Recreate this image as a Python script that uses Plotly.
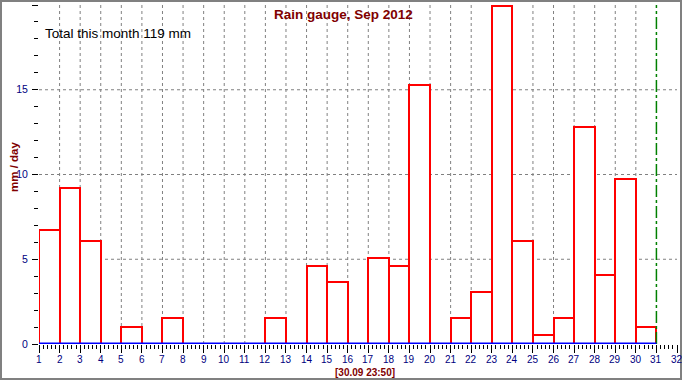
import plotly.graph_objects as go

days = list(range(1, 31))
rain_mm = [6.7, 9.2, 6.1, 0, 1.0, 0, 1.55, 0, 0, 0,
           0, 1.55, 0, 4.6, 3.65, 0, 5.1, 4.6, 15.3, 0,
           1.55, 3.05, 19.95, 6.1, 0.55, 1.55, 12.8, 4.05, 9.75, 1.0]
x_ticks = list(range(1, 33))
y_ticks = [0, 5, 10, 15, 20]
title_text = "Rain gauge, Sep 2012"
total_text = "Total this month 119 mm"
stamp_text = "[30.09 23:50]"
y_title = "mm / day"

W, H = 682, 380
L, R, T, B = 39, 5, 5, 36
PW, PH = W - L - R, H - T - B

def px_x(px):
    return (px - L) / PW

def px_y(py):
    return 1 - (py - T) / PH

MAROON = "#800000"
NAVY = "#000080"
FONT = "Arial, Liberation Sans, sans-serif"

fig = go.Figure()
fig.add_trace(go.Bar(
    x=[d + 0.5 for d in days],
    y=[v if v > 0 else None for v in rain_mm],
    width=1,
    marker=dict(color="white", line=dict(color="#ff0000", width=2)),
    hoverinfo="skip",
))

shapes = []
# grid
for d in x_ticks[1:-2]:
    shapes.append(dict(type="line", xref="x", yref="y", x0=d, x1=d, y0=0, y1=20,
                       line=dict(color="#808080", width=1, dash="3px,3px"), layer="below"))
for v in y_ticks[1:-1]:
    shapes.append(dict(type="line", xref="x", yref="y", x0=1, x1=32, y0=v, y1=v,
                       line=dict(color="#808080", width=1, dash="3px,3px"), layer="below"))
# green end-of-month line
shapes.append(dict(type="line", xref="x", yref="y", x0=days[-1] + 1, x1=days[-1] + 1, y0=0, y1=20,
                   line=dict(color="#008000", width=1.5, dash="12px,3px,3px,3px"), layer="above"))
# blue axis line
shapes.append(dict(type="line", xref="x", yref="y", x0=1, x1=days[-1] + 1, y0=0, y1=0,
                   line=dict(color="#0000ff", width=3), layer="above"))
# frame border
shapes.append(dict(type="rect", xref="paper", yref="paper",
                   x0=px_x(1), x1=px_x(681), y0=px_y(379), y1=px_y(1),
                   line=dict(color="#808080", width=2), layer="above"))

annotations = [
    dict(text=f"<b>{title_text}</b>", xref="paper", yref="paper", x=px_x(343), y=px_y(14),
         xanchor="center", yanchor="middle", showarrow=False,
         font=dict(family=FONT, size=13.5, color=MAROON)),
    dict(text=total_text, xref="paper", yref="paper", x=px_x(43), y=px_y(33),
         xanchor="left", yanchor="middle", showarrow=False,
         font=dict(family=FONT, size=13.5, color="#000000")),
    dict(text=f"<b>{stamp_text}</b>", xref="paper", yref="paper", x=px_x(365), y=px_y(372),
         xanchor="center", yanchor="middle", showarrow=False, borderpad=0,
         font=dict(family=FONT, size=10, color=MAROON)),
    dict(text=f"<b>{y_title}</b>", xref="paper", yref="paper", x=px_x(14), y=px_y(167),
         xanchor="center", yanchor="middle", showarrow=False, textangle=-90,
         font=dict(family=FONT, size=11.5, color=MAROON)),
]
# x tick labels placed as annotations so the last one (32) is kept at the edge
for t in x_ticks:
    annotations.append(dict(text=str(t), xref="x", yref="paper", x=t, y=px_y(359),
                            xanchor="center", yanchor="middle", showarrow=False, borderpad=0,
                            font=dict(family=FONT, size=10, color=NAVY)))

fig.update_layout(
    width=W, height=H,
    margin=dict(l=L, r=R, t=T, b=B),
    paper_bgcolor="white", plot_bgcolor="white",
    showlegend=False,
    bargap=0,
    shapes=shapes,
    annotations=annotations,
    xaxis=dict(range=[1, 32], tickvals=x_ticks, showticklabels=False,
               ticks="outside", ticklen=8, tickcolor="#000000", tickwidth=1,
               minor=dict(dtick=0.2, tick0=1, ticks="outside", ticklen=4, tickcolor="#000000"),
               showgrid=False, zeroline=False, showline=False, fixedrange=True),
    yaxis=dict(range=[0, 20], tickvals=y_ticks, ticks="outside", ticklen=6,
               tickcolor="#000000", tickwidth=1,
               minor=dict(dtick=1, tick0=0, ticks="outside", ticklen=4, tickcolor="#000000"),
               showgrid=False, zeroline=False, showline=False,
               ticklabelstandoff=2,
               tickfont=dict(family=FONT, size=10.5, color=NAVY), fixedrange=True),
)

fig.write_html("out.html", config={"displayModeBar": False},
               post_script="document.body.style.margin='0';document.body.style.overflow='hidden';")
